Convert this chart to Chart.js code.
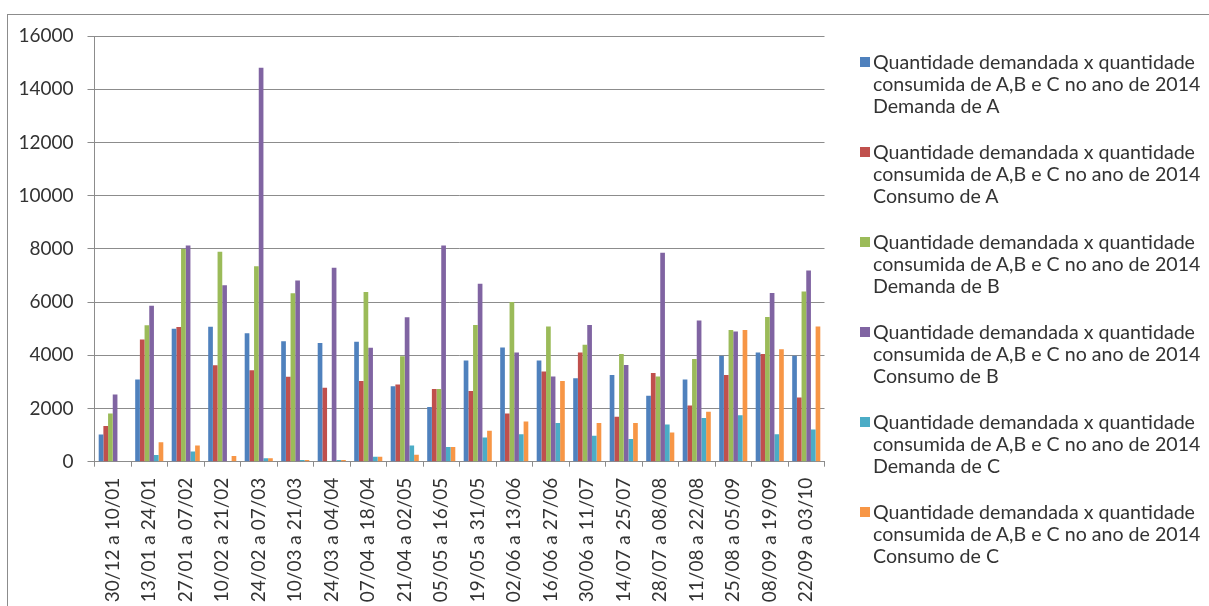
<!DOCTYPE html>
<html>
<head>
<meta charset="utf-8">
<script src="https://cdn.jsdelivr.net/npm/chart.js@4"></script>
<style>
  html, body { margin: 0; padding: 0; background: #fff; }
  #wrap { position: relative; width: 1209px; height: 606px; overflow: hidden; }
  #frame { position: absolute; left: 7px; top: 14px; width: 1300px; height: 700px;
           border-left: 1px solid #8c8c8c; border-top: 1px solid #8c8c8c; }
  #chart { position: absolute; left: 0; top: 0; }
  #legend { position: absolute; left: 0; top: 0; font-family: Lato, sans-serif; font-size: 19.6px; color: #333; }
  .item { position: absolute; left: 860px; }
  .sw { position: absolute; left: 0; width: 10px; height: 10px; }
  .txt { position: absolute; left: 13px; white-space: nowrap; line-height: 22px; }
</style>
</head>
<body>
<div id="wrap">
  <div id="frame"></div>
  <canvas id="chart" width="1209" height="606"></canvas>
  <div id="legend"></div>
</div>
<script>
// Two-week periods of 2014
const periods = [
  "30/12 a 10/01", "13/01 a 24/01", "27/01 a 07/02", "10/02 a 21/02", "24/02 a 07/03",
  "10/03 a 21/03", "24/03 a 04/04", "07/04 a 18/04", "21/04 a 02/05", "05/05 a 16/05",
  "19/05 a 31/05", "02/06 a 13/06", "16/06 a 27/06", "30/06 a 11/07", "14/07 a 25/07",
  "28/07 a 08/08", "11/08 a 22/08", "25/08 a 05/09", "08/09 a 19/09", "22/09 a 03/10"
];

const demandaA = [1025, 3090, 5000, 5075, 4825, 4525, 4460, 4510, 2840, 2060, 3800, 4290, 3800, 3140, 3260, 2480, 3090, 3980, 4100, 3980];
const consumoA = [1340, 4590, 5060, 3625, 3440, 3190, 2780, 3030, 2900, 2730, 2660, 1810, 3390, 4100, 1690, 3330, 2110, 3260, 4050, 2410];
const demandaB = [1810, 5130, 7990, 7890, 7350, 6330, 30, 6380, 3960, 2730, 5140, 6000, 5080, 4400, 4050, 3200, 3860, 4950, 5440, 6400];
const consumoB = [2530, 5860, 8130, 6630, 14810, 6810, 7290, 4280, 5430, 8130, 6690, 4100, 3200, 5140, 3630, 7850, 5310, 4890, 6340, 7190];
const demandaC = [0, 250, 380, 20, 130, 60, 60, 190, 610, 550, 910, 1030, 1450, 980, 850, 1400, 1640, 1750, 1030, 1210];
const consumoC = [0, 730, 610, 210, 130, 60, 60, 190, 260, 550, 1160, 1510, 3030, 1450, 1450, 1100, 1880, 4950, 4230, 5080];

const prefix = ["Quantidade demandada x quantidade", "consumida de A,B e C no ano de 2014"];
const seriesNames = ["Demanda de A", "Consumo de A", "Demanda de B", "Consumo de B", "Demanda de C", "Consumo de C"];
const seriesColors = ["#4F81BD", "#C0504D", "#9BBB59", "#8064A2", "#4BACC6", "#F79646"];
const seriesValues = [demandaA, consumoA, demandaB, consumoB, demandaC, consumoC];

const yTicks = { min: 0, max: 16000, step: 2000 };

const FONT = "Lato, sans-serif";
const TEXT = "#333333";
const LINE = "#8c8c8c";

const datasets = seriesValues.map((vals, i) => ({
  label: prefix.join(" ") + " " + seriesNames[i],
  data: vals,
  backgroundColor: seriesColors[i],
  borderWidth: 0,
  categoryPercentage: 0.77,
  barPercentage: 1.0
}));

new Chart(document.getElementById("chart"), {
  type: "bar",
  data: { labels: periods, datasets },
  options: {
    responsive: false,
    animation: false,
    layout: { padding: { left: 0, top: 36, right: 384.5, bottom: 0 } },
    plugins: { legend: { display: false }, tooltip: { enabled: false } },
    scales: {
      x: {
        grid: { drawOnChartArea: false, drawTicks: true, tickLength: 5, color: LINE, offset: true },
        border: { color: LINE },
        ticks: {
          autoSkip: false, minRotation: 90, maxRotation: 90, padding: 11,
          font: { family: FONT, size: 19 }, color: TEXT
        },
        afterFit: s => { s.height = 144.3; }
      },
      y: {
        min: yTicks.min, max: yTicks.max,
        grid: { color: LINE, tickLength: 7 },
        border: { color: LINE },
        ticks: {
          stepSize: yTicks.step, padding: 14,
          font: { family: FONT, size: 19 }, color: TEXT,
          callback: v => String(v)
        },
        afterFit: s => { s.width = 94.5; }
      }
    }
  }
});

// Legend on the right: three lines per series
const legend = document.getElementById("legend");
seriesNames.forEach((name, i) => {
  const center = 61.7 + 90 * i;
  const item = document.createElement("div");
  item.className = "item";
  item.style.top = (center - 11) + "px";
  const sw = document.createElement("div");
  sw.className = "sw";
  sw.style.top = "6px";
  sw.style.background = seriesColors[i];
  item.appendChild(sw);
  const txt = document.createElement("div");
  txt.className = "txt";
  txt.innerHTML = prefix[0] + "<br>" + prefix[1] + "<br>" + name;
  item.appendChild(txt);
  legend.appendChild(item);
});
</script>
</body>
</html>
